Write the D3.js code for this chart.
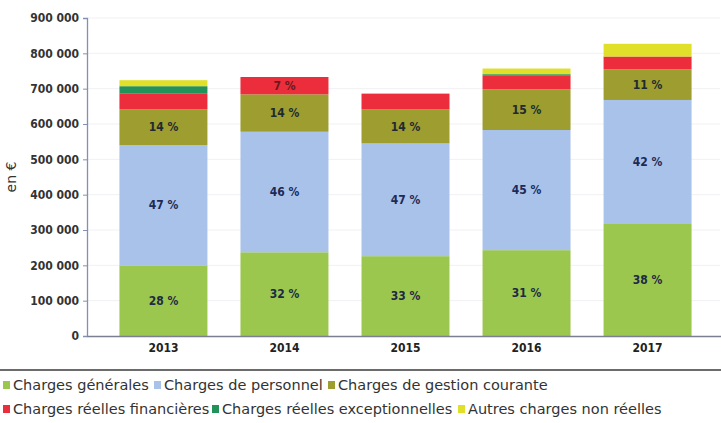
<!DOCTYPE html>
<html>
<head>
<meta charset="utf-8">
<script src="https://cdn.jsdelivr.net/npm/d3@7"></script>
<style>
  body { margin: 0; background: #fff; }
  svg { display: block; }
</style>
</head>
<body>
<div id="chart"></div>
<script>
// years on the x axis
const years = ["2013", "2014", "2015", "2016", "2017"];

// series values in euros, bottom to top of each bar
const chargesGenerales = [200000, 237000, 226000, 243000, 317000];
const chargesPersonnel = [340000, 341000, 319000, 340000, 351000];
const chargesGestion = [102000, 106000, 96000, 115000, 87000];
const chargesFinancieres = [45000, 49000, 45000, 40000, 36000];
const chargesExceptionnelles = [20000, 0, 0, 3000, 0];
const autresCharges = [17000, 0, 0, 16000, 36000];

// percent labels printed inside the segments
const labelsGenerales = ["28 %", "32 %", "33 %", "31 %", "38 %"];
const labelsPersonnel = ["47 %", "46 %", "47 %", "45 %", "42 %"];
const labelsGestion = ["14 %", "14 %", "14 %", "15 %", "11 %"];
const labelsFinancieres = ["", "7 %", "", "", ""];

const seriesNames = ["Charges générales", "Charges de personnel", "Charges de gestion courante",
  "Charges réelles financières", "Charges réelles exceptionnelles", "Autres charges non réelles"];
const seriesColors = ["#9cc74f", "#a9c2ea", "#9d9d30", "#ec2d3b", "#22925a", "#e0e02a"];

const yTicks = [0, 100000, 200000, 300000, 400000, 500000, 600000, 700000, 800000, 900000];

const width = 721, height = 423;
const condensed = "'DejaVu Sans Condensed', 'Liberation Sans Narrow', 'DejaVu Sans', sans-serif";

const svg = d3.select("#chart").append("svg")
  .attr("width", width)
  .attr("height", height);

const allSeries = [chargesGenerales, chargesPersonnel, chargesGestion,
  chargesFinancieres, chargesExceptionnelles, autresCharges];
const allLabels = [labelsGenerales, labelsPersonnel, labelsGestion, labelsFinancieres];
const labelColors = ["#1d2a44", "#1d2a55", "#1d2a30", "#6a1a1a"];

const rows = years.map((yr, i) => {
  let r = {year: yr};
  allSeries.forEach((s, k) => r["s" + k] = s[i]);
  return r;
});
const keys = allSeries.map((s, k) => "s" + k);
const stacked = d3.stack().keys(keys)(rows);

const x = d3.scaleBand()
  .domain(years)
  .range([87, 724])
  .paddingInner(0.273)
  .paddingOuter(0.268);

const y = d3.scaleLinear()
  .domain([0, 900000])
  .range([336, 18]);

// faint grid
svg.append("g")
  .selectAll("line")
  .data(yTicks.slice(1))
  .join("line")
  .attr("x1", 88).attr("x2", 720)
  .attr("y1", d => y(d)).attr("y2", d => y(d))
  .attr("stroke", "#f1f1f4");

// bars
svg.append("g")
  .selectAll("g")
  .data(stacked)
  .join("g")
  .attr("fill", (d, k) => seriesColors[k])
  .selectAll("rect")
  .data(d => d)
  .join("rect")
  .attr("x", d => x(d.data.year))
  .attr("width", x.bandwidth())
  .attr("y", d => y(d[1]))
  .attr("height", d => y(d[0]) - y(d[1]));

// percent labels
allLabels.forEach((labels, k) => {
  svg.append("g")
    .selectAll("text")
    .data(stacked[k])
    .join("text")
    .attr("x", d => x(d.data.year) + x.bandwidth() / 2)
    .attr("y", d => (y(d[0]) + y(d[1])) / 2)
    .attr("dy", "0.35em")
    .attr("text-anchor", "middle")
    .attr("font-family", condensed)
    .attr("font-weight", "bold")
    .attr("font-size", 12)
    .attr("fill", labelColors[k])
    .text((d, i) => labels[i]);
});

// y axis
const fmt = v => d3.format(",")(v).replace(/,/g, " ");
const yAxis = svg.append("g")
  .attr("transform", "translate(87,0)")
  .call(d3.axisLeft(y).tickValues(yTicks).tickFormat(fmt).tickSize(4).tickPadding(4));
yAxis.select(".domain").attr("stroke", "#8190b4").attr("stroke-width", 1.3);
yAxis.selectAll(".tick line").attr("stroke", "#8190b4");
yAxis.selectAll(".tick text")
  .attr("font-family", condensed)
  .attr("font-weight", "bold")
  .attr("font-size", 12)
  .attr("fill", "#333");

// x axis
const xAxis = svg.append("g")
  .attr("transform", "translate(0,336)")
  .call(d3.axisBottom(x).tickSize(0).tickPadding(7));
xAxis.select(".domain").attr("stroke", "#7c7f90").attr("stroke-width", 1.3);
xAxis.selectAll(".tick text")
  .attr("font-family", condensed)
  .attr("font-weight", "bold")
  .attr("font-size", 12)
  .attr("fill", "#222");

// axis title
svg.append("text")
  .attr("transform", "translate(16,177) rotate(-90)")
  .attr("text-anchor", "middle")
  .attr("font-family", "'DejaVu Sans', sans-serif")
  .attr("font-size", 14)
  .attr("fill", "#333")
  .text("en €");

// separator line above the legend
svg.append("line")
  .attr("x1", 0).attr("x2", width)
  .attr("y1", 370).attr("y2", 370)
  .attr("stroke", "#3a3a3a")
  .attr("stroke-width", 1.6);

// legend, two rows
const legendPos = [[3, 385], [154, 385], [328, 385], [3, 409], [212, 409], [458, 409]];
const legend = svg.append("g")
  .selectAll("g")
  .data(seriesNames)
  .join("g")
  .attr("transform", (d, i) => `translate(${legendPos[i][0]},${legendPos[i][1]})`);
legend.append("rect")
  .attr("x", 0).attr("y", -4)
  .attr("width", 7).attr("height", 8)
  .attr("fill", (d, i) => seriesColors[i]);
legend.append("text")
  .attr("x", 10)
  .attr("dy", "0.35em")
  .attr("font-family", "'DejaVu Sans', sans-serif")
  .attr("font-size", 14.5)
  .attr("fill", "#333")
  .text(d => d);
</script>
</body>
</html>
